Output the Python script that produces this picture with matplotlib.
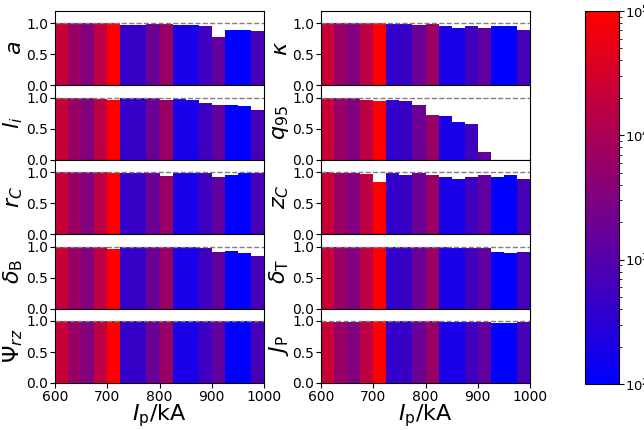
import numpy as np
import matplotlib
matplotlib.use("Agg")
import matplotlib.pyplot as plt
from matplotlib.colors import LinearSegmentedColormap, LogNorm
from matplotlib.cm import ScalarMappable

# bin edges (kA) and sample counts per bin
bin_left = [600, 625, 650, 675, 700, 725, 750, 775, 800, 825, 850, 875, 900, 925, 950, 975]
bin_width = 25
counts = [22000, 6300, 3200, 16600, 100000, 400, 460, 1800, 6300, 200, 200, 560, 1400, 100, 100, 700]

a_vals      = [1.0, 1.0, 1.0, 1.0, 1.0, 0.97, 0.97, 0.99, 0.99, 0.98, 0.97, 0.96, 0.78, 0.89, 0.90, 0.88]
li_vals     = [1.0, 0.99, 0.99, 0.98, 0.97, 0.99, 0.99, 0.99, 0.97, 0.98, 0.97, 0.92, 0.88, 0.89, 0.86, 0.80]
rc_vals     = [1.0, 1.0, 1.0, 1.0, 0.98, 0.99, 0.99, 0.98, 0.94, 0.99, 0.99, 0.98, 0.93, 0.96, 0.98, 0.98]
dB_vals     = [1.0, 1.0, 1.0, 1.0, 0.96, 1.0, 1.0, 1.0, 1.0, 1.0, 1.0, 0.97, 0.92, 0.93, 0.90, 0.85]
psi_vals    = [1.0] * 16
kappa_vals  = [1.0, 1.0, 1.0, 1.0, 1.0, 0.99, 0.99, 0.98, 0.99, 0.95, 0.93, 0.95, 0.93, 0.96, 0.96, 0.90]
q95_vals    = [1.0, 0.99, 0.99, 0.97, 0.95, 0.97, 0.95, 0.88, 0.73, 0.70, 0.61, 0.58, 0.12, 0.0, 0.0, 0.0]
zc_vals     = [1.0, 0.99, 0.99, 0.97, 0.84, 0.98, 0.96, 0.98, 0.96, 0.92, 0.89, 0.93, 0.96, 0.92, 0.95, 0.89]
dT_vals     = [1.0, 1.0, 1.0, 1.0, 1.0, 1.0, 1.0, 1.0, 1.0, 0.99, 0.98, 0.97, 0.97, 0.91, 0.90, 0.92]
jp_vals     = [0.98, 0.98, 0.98, 1.0, 1.0, 1.0, 1.0, 1.0, 1.0, 0.98, 0.98, 0.99, 0.99, 0.97, 0.97, 0.98]

left_labels = [r"$a$", r"$l_i$", r"$r_C$", r"$\delta_\mathrm{B}$", r"$\Psi_{rz}$"]
left_data = [a_vals, li_vals, rc_vals, dB_vals, psi_vals]
right_labels = [r"$\kappa$", r"$q_{95}$", r"$z_C$", r"$\delta_\mathrm{T}$", r"$J_\mathrm{P}$"]
right_data = [kappa_vals, q95_vals, zc_vals, dT_vals, jp_vals]

cmap = LinearSegmentedColormap.from_list("br", [(0, 0, 1), (1, 0, 0)])
norm = LogNorm(vmin=1e2, vmax=1e5)
colors = cmap(norm(np.array(counts, dtype=float)))

W, H = 644, 430
fig = plt.figure(figsize=(W / 100, H / 100), dpi=100)

top_px, bot_px = 11, 383
row_h = (bot_px - top_px) / 5
cols = [(55, 264), (321, 530)]

for c, (labels, data) in enumerate([(left_labels, left_data), (right_labels, right_data)]):
    x0, x1 = cols[c]
    for r in range(5):
        y_top = top_px + r * row_h
        ax = fig.add_axes([x0 / W, 1 - (y_top + row_h) / H, (x1 - x0) / W, row_h / H])
        ax.bar(bin_left, data[r], width=bin_width, align="edge", color=colors)
        ax.axhline(1.0, color="gray", ls="--", lw=1)
        ax.set_xlim(600, 1000)
        ax.set_ylim(0, 1.2)
        ax.set_yticks([0, 0.5, 1.0])
        ax.set_yticklabels(["0.0", "0.5", "1.0"])
        ax.tick_params(labelsize=10, length=3.5, pad=1.5)
        ax.set_ylabel(labels[r], fontsize=16, labelpad=0)
        ax.yaxis.set_label_coords(-0.145, 0.5)
        if r < 4:
            ax.set_xticklabels([])
            ax.tick_params(axis="x", length=0)
        else:
            ax.set_xticks([600, 700, 800, 900, 1000])
            ax.set_xlabel(r"$I_\mathrm{p}$/kA", fontsize=16, labelpad=-1)

cax = fig.add_axes([585 / W, 1 - 384 / H, 34 / W, (384 - 11) / H])
sm = ScalarMappable(norm=norm, cmap=cmap)
cb = fig.colorbar(sm, cax=cax)
cb.ax.tick_params(labelsize=9.5, pad=1)

fig.savefig("out.png", dpi=100)
